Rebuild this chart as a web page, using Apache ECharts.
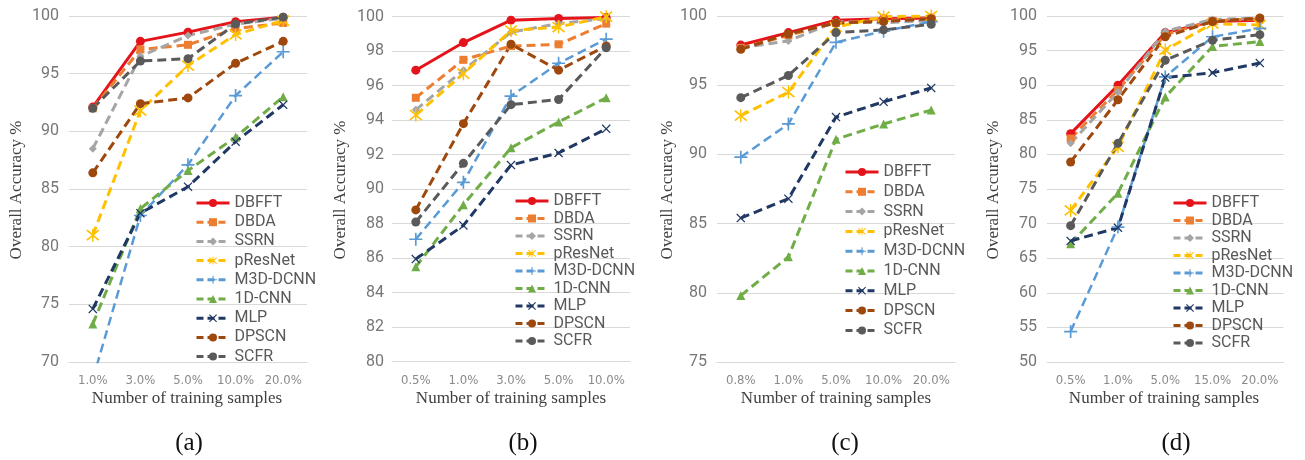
<!DOCTYPE html>
<html>
<head>
<meta charset="utf-8">
<script src="https://cdn.jsdelivr.net/npm/echarts@6/dist/echarts.min.js"></script>
<style>
  html, body { margin: 0; padding: 0; background: #fff; }
  #chart { width: 1305px; height: 460px; }
</style>
</head>
<body>
<div id="chart"></div>
<script>
// Training-sample ratios on each panel's x axis
const catsA = ['1.0%', '3.0%', '5.0%', '10.0%', '20.0%'];
const catsB = ['0.5%', '1.0%', '3.0%', '5.0%', '10.0%'];
const catsC = ['0.8%', '1.0%', '5.0%', '10.0%', '20.0%'];
const catsD = ['0.5%', '1.0%', '5.0%', '15.0%', '20.0%'];

// Overall accuracy (%) per method, one row per panel (a, b, c, d)
const DBFFT = [
  [92.1, 97.8, 98.6, 99.5, 99.9],
  [96.9, 98.5, 99.8, 99.9, 99.95],
  [97.9, 98.8, 99.7, 99.8, 99.85],
  [83.0, 90.0, 97.6, 99.2, 99.4]
];
const DBDA = [
  [92.0, 97.1, 97.5, 98.9, 99.4],
  [95.3, 97.5, 98.3, 98.4, 99.6],
  [97.7, 98.6, 99.5, 99.7, 99.8],
  [82.3, 89.3, 97.3, 99.3, 99.6]
];
const SSRN = [
  [88.5, 96.5, 98.3, 99.3, 99.8],
  [94.6, 96.9, 99.1, 99.6, 99.9],
  [97.7, 98.2, 99.6, 99.5, 99.7],
  [81.6, 89.0, 97.8, 99.5, 99.7]
];
const pResNet = [
  [81.0, 91.8, 95.7, 98.4, 99.6],
  [94.3, 96.7, 99.2, 99.4, 100],
  [92.8, 94.5, 99.2, 99.95, 100],
  [71.9, 81.1, 95.1, 98.9, 98.7]
];
const M3D_DCNN = [
  [68.5, 82.7, 87.1, 93.1, 96.9],
  [87.1, 90.4, 95.4, 97.3, 98.7],
  [89.8, 92.2, 98.1, 98.9, 99.6],
  [54.4, 69.5, 91.2, 97.0, 98.2]
];
const CNN1D = [
  [73.3, 83.3, 86.6, 89.5, 93.0],
  [85.5, 89.1, 92.4, 93.9, 95.3],
  [79.8, 82.6, 91.1, 92.2, 93.2],
  [67.1, 74.4, 88.3, 95.6, 96.3]
];
const MLP = [
  [74.6, 82.9, 85.2, 89.1, 92.3],
  [85.95, 87.9, 91.4, 92.1, 93.5],
  [85.4, 86.8, 92.7, 93.8, 94.8],
  [67.5, 69.4, 91.1, 91.8, 93.2]
];
const DPSCN = [
  [86.4, 92.4, 92.9, 95.9, 97.8],
  [88.8, 93.8, 98.4, 96.9, 98.3],
  [97.6, 98.7, 99.5, 99.6, 99.8],
  [78.9, 87.9, 97.0, 99.2, 99.7]
];
const SCFR = [
  [92.0, 96.1, 96.3, 99.3, 99.9],
  [88.1, 91.5, 94.9, 95.2, 98.2],
  [94.1, 95.7, 98.8, 99.0, 99.4],
  [69.7, 81.6, 93.6, 96.5, 97.3]
];

// Y-axis range of each panel: [min, max, step]
const yRanges = [[70, 100, 5], [80, 100, 2], [75, 100, 5], [50, 100, 5]];
const panelTags = ['(a)', '(b)', '(c)', '(d)'];
const xTitle = 'Number of training samples';
const yTitle = 'Overall Accuracy %';

// Marker outlines
const PLUS = 'path://M4.35,0H5.65V4.35H10V5.65H5.65V10H4.35V5.65H0V4.35H4.35Z';
const CROSS = 'path://M0,1L1,0L5,4L9,0L10,1L6,5L10,9L9,10L5,6L1,10L0,9L4,5Z';
const ASTER = 'path://M0,1.6L0.9,0.7L5,4.1L9.1,0.7L10,1.6L5.9,5L10,8.4L9.1,9.3L5,5.9L0.9,9.3L0,8.4L4.1,5Z M4.45,0H5.55V10H4.45Z';

const methods = [
  { name: 'DBFFT', data: DBFFT, color: '#E5141B', symbol: 'circle', size: 9, dash: 'solid', width: 3 },
  { name: 'DBDA', data: DBDA, color: '#ED7D31', symbol: 'rect', size: 8, dash: [9, 5], width: 3 },
  { name: 'SSRN', data: SSRN, color: '#A5A5A5', symbol: 'diamond', size: 8, dash: [9, 5], width: 3 },
  { name: 'pResNet', data: pResNet, color: '#FFC000', symbol: ASTER, size: 13, dash: [9, 5], width: 3 },
  { name: 'M3D-DCNN', data: M3D_DCNN, color: '#5B9BD5', symbol: PLUS, size: 13, dash: [9, 5], width: 2.5 },
  { name: '1D-CNN', data: CNN1D, color: '#70AD47', symbol: 'triangle', size: 9, dash: [9, 5], width: 3 },
  { name: 'MLP', data: MLP, color: '#203864', symbol: CROSS, size: 9, dash: [9, 5], width: 3 },
  { name: 'DPSCN', data: DPSCN, color: '#9E480E', symbol: 'circle', size: 9, dash: [9, 5], width: 3 },
  { name: 'SCFR', data: SCFR, color: '#5A5A5A', symbol: 'circle', size: 9, dash: [9, 5], width: 3 }
];

// Layout of the four plot areas
const grids = [
  { left: 69, top: 16, width: 238, height: 346 },
  { left: 392, top: 16.7, width: 238, height: 345 },
  { left: 717, top: 16, width: 238, height: 346 },
  { left: 1047, top: 16, width: 236.5, height: 346 }
];
const labelMargins = [10, 8, 10, 10];
const legendPos = [
  { left: 190, top: 190, gap: 3.2 },
  { left: 509, top: 188, gap: 1.5 },
  { left: 839, top: 159, gap: 3.8 },
  { left: 1167, top: 190, gap: 1.5 }
];
const xTitleX = [187, 511, 836, 1164];
const yTitleX = [17, 341, 668, 994];
const tagX = [189, 523, 845, 1176];
const cats = [catsA, catsB, catsC, catsD];

const xAxes = cats.map((c, i) => ({
  type: 'category',
  gridIndex: i,
  data: c,
  boundaryGap: true,
  axisLine: { show: true, lineStyle: { color: '#D9D9D9', width: 1 } },
  axisTick: { show: false },
  axisLabel: {
    color: '#8A8A8A',
    fontSize: 13,
    fontFamily: '"Liberation Sans Narrow", "DejaVu Sans Condensed", sans-serif',
    margin: 12,
    interval: 0
  }
}));

const yAxes = yRanges.map((r, i) => ({
  type: 'value',
  gridIndex: i,
  min: r[0],
  max: r[1],
  interval: r[2],
  axisLine: { show: false },
  axisTick: { show: false },
  splitLine: { lineStyle: { color: '#D9D9D9', width: 1 } },
  axisLabel: {
    color: '#767676',
    fontSize: 16,
    fontFamily: 'Roboto, "Open Sans", sans-serif',
    margin: labelMargins[i]
  }
}));

const series = [];
for (let p = 0; p < 4; p++) {
  methods.forEach(m => {
    series.push({
      type: 'line',
      name: m.name,
      xAxisIndex: p,
      yAxisIndex: p,
      data: m.data[p],
      clip: true,
      symbol: m.symbol,
      symbolSize: m.size,
      showSymbol: true,
      color: m.color,
      itemStyle: { color: m.color },
      lineStyle: { color: m.color, width: m.width, type: m.dash },
      emphasis: { disabled: true }
    });
  });
}

// Legend entries: line sample with the series marker in the middle
const legendData = methods.map(m => ({
  name: m.name,
  itemStyle: { color: m.color },
  lineStyle: { color: m.color, width: 3, type: m.dash === 'solid' ? 'solid' : [7, 4] }
}));

const legends = legendPos.map(l => ({
  left: l.left,
  top: l.top,
  orient: 'vertical',
  itemWidth: 33,
  itemHeight: 10,
  itemGap: l.gap,
  selectedMode: false,
  data: legendData,
  textStyle: {
    color: '#595959',
    fontSize: 16,
    lineHeight: 16,
    fontFamily: 'Roboto, "Open Sans", sans-serif'
  }
}));

const graphics = [];
for (let p = 0; p < 4; p++) {
  graphics.push({
    type: 'text', x: xTitleX[p], y: 399,
    style: { text: xTitle, fill: '#404040', font: '17px "Liberation Serif", serif', align: 'center', verticalAlign: 'middle' }
  });
  graphics.push({
    type: 'text', x: yTitleX[p], y: 190, rotation: Math.PI / 2,
    style: { text: yTitle, fill: '#404040', font: '17px "Liberation Serif", serif', align: 'center', verticalAlign: 'middle' }
  });
  graphics.push({
    type: 'text', x: tagX[p], y: 443,
    style: { text: panelTags[p], fill: '#111111', font: '25px "Liberation Serif", serif', align: 'center', verticalAlign: 'middle' }
  });
}

const chart = echarts.init(document.getElementById('chart'), null, { renderer: 'canvas' });
chart.setOption({
  animation: false,
  backgroundColor: '#ffffff',
  grid: grids,
  xAxis: xAxes,
  yAxis: yAxes,
  legend: legends,
  series: series,
  graphic: graphics
});
</script>
</body>
</html>
